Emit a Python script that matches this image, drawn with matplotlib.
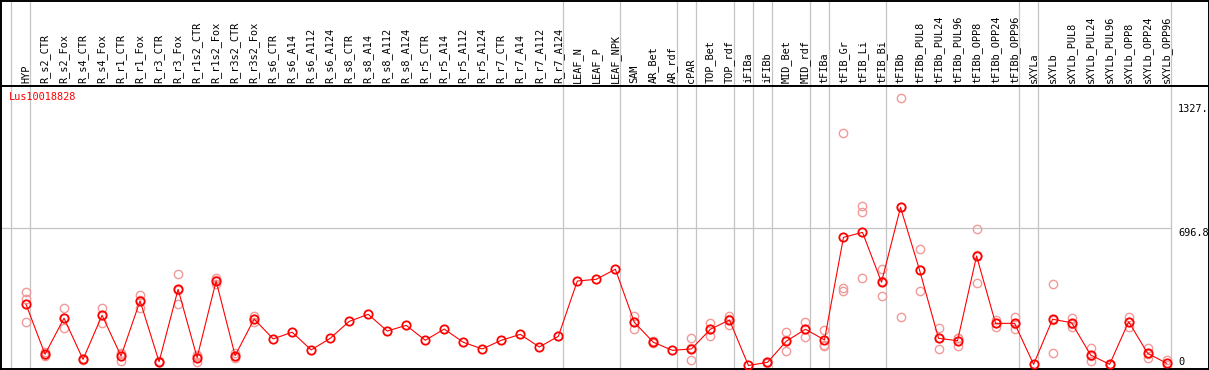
import numpy as np
import matplotlib
matplotlib.use("Agg")
import matplotlib.pyplot as plt
from matplotlib.transforms import blended_transform_factory


GENE = "Lus10018828"

SAMPLES = [
    "HYP",
    "R_s2_CTR", "R_s2_Fox", "R_s4_CTR", "R_s4_Fox", "R_r1_CTR", "R_r1_Fox",
    "R_r3_CTR", "R_r3_Fox", "R_r1s2_CTR", "R_r1s2_Fox", "R_r3s2_CTR", "R_r3s2_Fox",
    "R_s6_CTR", "R_s6_A14", "R_s6_A112", "R_s6_A124",
    "R_s8_CTR", "R_s8_A14", "R_s8_A112", "R_s8_A124",
    "R_r5_CTR", "R_r5_A14", "R_r5_A112", "R_r5_A124",
    "R_r7_CTR", "R_r7_A14", "R_r7_A112", "R_r7_A124",
    "LEAF_N", "LEAF_P", "LEAF_NPK",
    "SAM", "AR_Bet", "AR_rdf",
    "cPAR",
    "TOP_Bet", "TOP_rdf",
    "iFIBa",
    "iFIBb",
    "MID_Bet", "MID_rdf",
    "tFIBa",
    "tFIB_Gr", "tFIB_Li", "tFIB_Bi",
    "tFIBb", "tFIBb_PUL8", "tFIBb_PUL24", "tFIBb_PUL96",
    "tFIBb_OPP8", "tFIBb_OPP24", "tFIBb_OPP96",
    "sXYLa",
    "sXYLb", "sXYLb_PUL8", "sXYLb_PUL24", "sXYLb_PUL96",
    "sXYLb_OPP8", "sXYLb_OPP24", "sXYLb_OPP96",
]

# number of samples in each block between the grey separators
GROUP_SIZES = [1, 28, 3, 3, 1, 2, 1, 1, 2, 1, 3, 7, 1, 7]

MEANS = [
    311, 57, 240, 31, 255, 48, 328, 19, 387, 40, 429, 50, 236,
    135, 169, 79, 138, 224, 260, 175, 204, 128, 185, 118, 84, 128, 158, 94, 148,
    429, 438, 489,
    219, 118, 77,
    84,
    184, 231,
    0,
    16,
    124, 184,
    130,
    651, 676, 423,
    803, 485, 138, 126, 556, 214, 214,
    6,
    235, 217, 53, 6, 222, 62, 11,
]

REPLICATES = [
    [373, 336, 221], [70, 55, 46], [290, 240, 189], [35, 29], [290, 258, 217],
    [62, 58, 24], [358, 332, 294], [21, 17], [465, 385, 311], [53, 48, 19],
    [443, 432, 412], [65, 50, 36], [253, 236, 219],
    [], [], [], [], [], [], [], [], [], [], [], [], [], [], [], [],
    [], [], [],
    [253, 219, 184], [122, 115], [],
    [138, 88, 26],
    [216, 186, 150], [253, 236, 204],
    [],
    [18, 14],
    [169, 131, 72], [219, 187, 146],
    [180, 104, 99],
    [1179, 392, 380], [812, 778, 443], [490, 428, 351],
    [1357, 807, 245], [590, 487, 378], [190, 142, 82], [138, 141, 99],
    [692, 559, 417], [231, 217, 194], [245, 212, 185],
    [],
    [412, 231, 62], [243, 211, 197], [90, 48, 21], [10, 2],
    [248, 221, 197], [87, 59, 40], [28, 4],
]

Y_TICKS = [0, 696.8, 1327.]
Y_TICK_LABELS = ["0", "696.8", "1327."]
Y_GRID = [696.8]

RED = "#ff0000"
PINK = "#f29a9a"
GRID = "#c4c4c4"
FONT = "DejaVu Sans Mono"
FS = 7.4

W, H = 1209, 370
fig = plt.figure(figsize=(W / 100, H / 100), dpi=100)

# pixel boxes
top_px, sep_px, bot_px = 0.5, 85.5, 369.0
left_px, right_px = 0.5, 1208.5
ax_head = fig.add_axes([left_px / W, 1 - sep_px / H, (right_px - left_px) / W, (sep_px - top_px) / H])
ax = fig.add_axes([left_px / W, 1 - bot_px / H, (right_px - left_px) / W, (bot_px - sep_px) / H],
                  sharex=ax_head)

x = np.arange(len(SAMPLES))
ax.set_xlim(-1.341, 62.20)
ax.set_ylim(-17.8, 1422)
ax_head.set_ylim(0, 1)

for a in (ax, ax_head):
    a.set_xticks([])
    a.set_yticks([])
    for s in a.spines.values():
        s.set_color("black")
        s.set_linewidth(1.4)

# group separators
bounds = np.concatenate([[-1], np.cumsum(GROUP_SIZES) - 1]) + 0.237
for b in bounds:
    ax.axvline(b, color=GRID, lw=0.9, zorder=0)
    ax_head.axvline(b, color=GRID, lw=0.9, zorder=0)

for g in Y_GRID:
    ax.plot([ax.get_xlim()[0], bounds[-1]], [g, g], color=GRID, lw=0.9, zorder=0)

# replicates
for i, reps in enumerate(REPLICATES):
    if reps:
        ax.plot([i] * len(reps), reps, "o", ms=6.0, mfc="none", mec=PINK, mew=1.0, zorder=2)

ax.plot(x, MEANS, "-", color=RED, lw=0.8, zorder=3)
ax.plot(x, MEANS, "o", ms=6.0, mfc="none", mec=RED, mew=1.3, zorder=4)

# sample labels
trans_head = blended_transform_factory(ax_head.transData, ax_head.transAxes)
for i, name in enumerate(SAMPLES):
    ax_head.text(i, 0.026, name, rotation=90, ha="center", va="bottom",
                 family=FONT, fontsize=FS, transform=trans_head)

ax.text(0.007, 0.959, GENE, color=RED, family=FONT, fontsize=FS,
        ha="left", va="center", transform=ax.transAxes)

trans_y = blended_transform_factory(ax.transAxes, ax.transData)
for val, lab in zip(Y_TICKS, Y_TICK_LABELS):
    ax.text(0.9748, val, lab, family=FONT, fontsize=FS, ha="left",
            va="baseline" if val == 0 else "top", transform=trans_y, clip_on=False)

fig.savefig("out.png", dpi=100)
